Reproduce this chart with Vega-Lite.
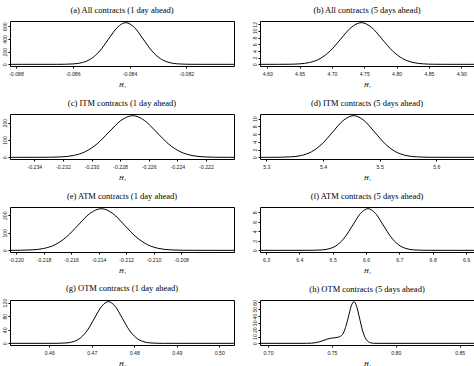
{
  "$schema": "https://vega.github.io/schema/vega-lite/v6.json",
  "padding": {"left": 1, "top": 5, "right": 0, "bottom": 0},
  "bounds": "flush",
  "columns": 2,
  "spacing": {"row": 48, "column": 26},
  "data": {"values": [
    {"p":"a","x":-0.08821,"y":0},{"p":"a","x":-0.08657,"y":0.22},{"p":"a","x":-0.086265,"y":1.43},{"p":"a","x":-0.08596,"y":7.3},{"p":"a","x":-0.085655,"y":28.7},{"p":"a","x":-0.08535,"y":88.5},{"p":"a","x":-0.085045,"y":212},{"p":"a","x":-0.08474,"y":397},{"p":"a","x":-0.084435,"y":577},{"p":"a","x":-0.08413,"y":654},{"p":"a","x":-0.083825,"y":577},{"p":"a","x":-0.08352,"y":397},{"p":"a","x":-0.083215,"y":212},{"p":"a","x":-0.08291,"y":88.5},{"p":"a","x":-0.082605,"y":28.7},{"p":"a","x":-0.0823,"y":7.3},{"p":"a","x":-0.081995,"y":1.43},{"p":"a","x":-0.08169,"y":0.22},{"p":"a","x":-0.08032,"y":0},
    {"p":"b","x":4.5887,"y":0},{"p":"b","x":4.6175,"y":0.004},{"p":"b","x":4.6335,"y":0.027},{"p":"b","x":4.6495,"y":0.14},{"p":"b","x":4.6655,"y":0.55},{"p":"b","x":4.6815,"y":1.69},{"p":"b","x":4.6975,"y":4.05},{"p":"b","x":4.7135,"y":7.56},{"p":"b","x":4.7295,"y":11.0},{"p":"b","x":4.7455,"y":12.47},{"p":"b","x":4.7615,"y":11.0},{"p":"b","x":4.7775,"y":7.56},{"p":"b","x":4.7935,"y":4.05},{"p":"b","x":4.8095,"y":1.69},{"p":"b","x":4.8255,"y":0.55},{"p":"b","x":4.8415,"y":0.14},{"p":"b","x":4.8575,"y":0.027},{"p":"b","x":4.8735,"y":0.004},{"p":"b","x":4.9197,"y":0},
    {"p":"c","x":-0.2357,"y":0},{"p":"c","x":-0.23376,"y":0.08},{"p":"c","x":-0.23293,"y":0.53},{"p":"c","x":-0.2321,"y":2.67},{"p":"c","x":-0.23127,"y":10.5},{"p":"c","x":-0.23044,"y":32.5},{"p":"c","x":-0.22961,"y":78},{"p":"c","x":-0.22878,"y":145.8},{"p":"c","x":-0.22795,"y":212},{"p":"c","x":-0.22712,"y":240.3},{"p":"c","x":-0.22629,"y":212},{"p":"c","x":-0.22546,"y":145.8},{"p":"c","x":-0.22463,"y":78},{"p":"c","x":-0.2238,"y":32.5},{"p":"c","x":-0.22297,"y":10.5},{"p":"c","x":-0.22214,"y":2.67},{"p":"c","x":-0.22131,"y":0.53},{"p":"c","x":-0.22048,"y":0.08},{"p":"c","x":-0.22004,"y":0},
    {"p":"d","x":5.2889,"y":0},{"p":"d","x":5.306,"y":0.004},{"p":"d","x":5.3245,"y":0.024},{"p":"d","x":5.343,"y":0.12},{"p":"d","x":5.3615,"y":0.47},{"p":"d","x":5.38,"y":1.46},{"p":"d","x":5.3985,"y":3.5},{"p":"d","x":5.417,"y":6.54},{"p":"d","x":5.4355,"y":9.51},{"p":"d","x":5.454,"y":10.78},{"p":"d","x":5.4725,"y":9.51},{"p":"d","x":5.491,"y":6.54},{"p":"d","x":5.5095,"y":3.5},{"p":"d","x":5.528,"y":1.46},{"p":"d","x":5.5465,"y":0.47},{"p":"d","x":5.565,"y":0.12},{"p":"d","x":5.5835,"y":0.024},{"p":"d","x":5.602,"y":0.004},{"p":"d","x":5.6663,"y":0},
    {"p":"e","x":-0.22044,"y":0},{"p":"e","x":-0.21968,"y":0.52},{"p":"e","x":-0.21884,"y":2.64},{"p":"e","x":-0.218,"y":10.4},{"p":"e","x":-0.21716,"y":32.1},{"p":"e","x":-0.21632,"y":77.1},{"p":"e","x":-0.21548,"y":144},{"p":"e","x":-0.21464,"y":209.6},{"p":"e","x":-0.2138,"y":237.5},{"p":"e","x":-0.21296,"y":209.6},{"p":"e","x":-0.21212,"y":144},{"p":"e","x":-0.21128,"y":77.1},{"p":"e","x":-0.21044,"y":32.1},{"p":"e","x":-0.2096,"y":10.4},{"p":"e","x":-0.20876,"y":2.64},{"p":"e","x":-0.20792,"y":0.52},{"p":"e","x":-0.20708,"y":0.08},{"p":"e","x":-0.20415,"y":0},
    {"p":"f","x":6.282,"y":0},{"p":"f","x":6.4236,"y":0.003},{"p":"f","x":6.4464,"y":0.019},{"p":"f","x":6.4692,"y":0.097},{"p":"f","x":6.492,"y":0.38},{"p":"f","x":6.5148,"y":1.18},{"p":"f","x":6.5376,"y":2.84},{"p":"f","x":6.5604,"y":5.31},{"p":"f","x":6.5832,"y":7.72},{"p":"f","x":6.606,"y":8.75},{"p":"f","x":6.6288,"y":7.72},{"p":"f","x":6.6516,"y":5.31},{"p":"f","x":6.6744,"y":2.84},{"p":"f","x":6.6972,"y":1.18},{"p":"f","x":6.72,"y":0.38},{"p":"f","x":6.7428,"y":0.097},{"p":"f","x":6.7656,"y":0.019},{"p":"f","x":6.7884,"y":0.003},{"p":"f","x":6.924,"y":0},
    {"p":"g","x":0.45075,"y":0},{"p":"g","x":0.4609,"y":0.04},{"p":"g","x":0.46253,"y":0.27},{"p":"g","x":0.46415,"y":1.36},{"p":"g","x":0.46578,"y":5.4},{"p":"g","x":0.4674,"y":16.6},{"p":"g","x":0.46903,"y":39.8},{"p":"g","x":0.47065,"y":74.4},{"p":"g","x":0.47228,"y":108.2},{"p":"g","x":0.4739,"y":122.6},{"p":"g","x":0.47553,"y":108.2},{"p":"g","x":0.47715,"y":74.4},{"p":"g","x":0.47878,"y":39.8},{"p":"g","x":0.4804,"y":16.6},{"p":"g","x":0.48203,"y":5.4},{"p":"g","x":0.48365,"y":1.36},{"p":"g","x":0.48528,"y":0.27},{"p":"g","x":0.4869,"y":0.04},{"p":"g","x":0.50346,"y":0},
    {"p":"h","x":0.6937,"y":0},{"p":"h","x":0.725,"y":0},{"p":"h","x":0.73,"y":0.05},{"p":"h","x":0.734,"y":0.3},{"p":"h","x":0.737,"y":0.9},{"p":"h","x":0.74,"y":2.1},{"p":"h","x":0.743,"y":4},{"p":"h","x":0.746,"y":6},{"p":"h","x":0.749,"y":7.4},{"p":"h","x":0.752,"y":8.1},{"p":"h","x":0.754,"y":8.7},{"p":"h","x":0.7562,"y":9.9},{"p":"h","x":0.7584,"y":13.2},{"p":"h","x":0.7606,"y":23},{"p":"h","x":0.7628,"y":38},{"p":"h","x":0.765,"y":54},{"p":"h","x":0.7672,"y":61},{"p":"h","x":0.7694,"y":53.8},{"p":"h","x":0.7716,"y":37},{"p":"h","x":0.7738,"y":19.8},{"p":"h","x":0.776,"y":8.3},{"p":"h","x":0.7782,"y":2.7},{"p":"h","x":0.7804,"y":0.7},{"p":"h","x":0.7826,"y":0.13},{"p":"h","x":0.786,"y":0},{"p":"h","x":0.8612,"y":0}
  ]},
  "concat": [
    {"title": "(a) All contracts (1 day ahead)", "width": 224, "height": 45,
     "transform": [{"filter": "datum.p == 'a'"}],
     "mark": {"type": "line", "interpolate": "monotone", "color": "#000", "strokeWidth": 1},
     "encoding": {
       "x": {"field": "x", "type": "quantitative", "scale": {"domain": [-0.08821, -0.08032], "nice": false, "zero": false},
             "axis": {"title": "H₁", "values": [-0.088, -0.086, -0.084, -0.082], "labelExpr": "replace(format(datum.value, '.3f'), '\u2212', '-')"}},
       "y": {"field": "y", "type": "quantitative", "scale": {"domain": [-26.2, 680.2], "nice": false, "zero": false},
             "axis": {"title": null, "values": [0, 200, 400, 600]}}}},
    {"title": "(b) All contracts (5 days ahead)", "width": 214, "height": 45,
     "transform": [{"filter": "datum.p == 'b'"}],
     "mark": {"type": "line", "interpolate": "monotone", "color": "#000", "strokeWidth": 1},
     "encoding": {
       "x": {"field": "x", "type": "quantitative", "scale": {"domain": [4.5887, 4.9197], "nice": false, "zero": false},
             "axis": {"title": "H₁", "values": [4.6, 4.65, 4.7, 4.75, 4.8, 4.85, 4.9], "format": ".2f"}},
       "y": {"field": "y", "type": "quantitative", "scale": {"domain": [-0.5, 12.97], "nice": false, "zero": false},
             "axis": {"title": null, "values": [0, 2, 4, 6, 8, 10, 12]}}}},
    {"title": "(c) ITM contracts (1 day ahead)", "width": 224, "height": 45,
     "transform": [{"filter": "datum.p == 'c'"}],
     "mark": {"type": "line", "interpolate": "monotone", "color": "#000", "strokeWidth": 1},
     "encoding": {
       "x": {"field": "x", "type": "quantitative", "scale": {"domain": [-0.2357, -0.22004], "nice": false, "zero": false},
             "axis": {"title": "H₁", "values": [-0.234, -0.232, -0.23, -0.228, -0.226, -0.224, -0.222], "labelExpr": "replace(format(datum.value, '.3f'), '\u2212', '-')"}},
       "y": {"field": "y", "type": "quantitative", "scale": {"domain": [-9.6, 249.9], "nice": false, "zero": false},
             "axis": {"title": null, "values": [0, 100, 200]}}}},
    {"title": "(d) ITM contracts (5 days ahead)", "width": 214, "height": 45,
     "transform": [{"filter": "datum.p == 'd'"}],
     "mark": {"type": "line", "interpolate": "monotone", "color": "#000", "strokeWidth": 1},
     "encoding": {
       "x": {"field": "x", "type": "quantitative", "scale": {"domain": [5.2889, 5.6663], "nice": false, "zero": false},
             "axis": {"title": "H₁", "values": [5.3, 5.4, 5.5, 5.6], "format": ".1f"}},
       "y": {"field": "y", "type": "quantitative", "scale": {"domain": [-0.43, 11.21], "nice": false, "zero": false},
             "axis": {"title": null, "values": [0, 2, 4, 6, 8, 10]}}}},
    {"title": "(e) ATM contracts (1 day ahead)", "width": 224, "height": 45,
     "transform": [{"filter": "datum.p == 'e'"}],
     "mark": {"type": "line", "interpolate": "monotone", "color": "#000", "strokeWidth": 1},
     "encoding": {
       "x": {"field": "x", "type": "quantitative", "scale": {"domain": [-0.22044, -0.20415], "nice": false, "zero": false},
             "axis": {"title": "H₁", "values": [-0.22, -0.218, -0.216, -0.214, -0.212, -0.21, -0.208], "labelExpr": "replace(format(datum.value, '.3f'), '\u2212', '-')"}},
       "y": {"field": "y", "type": "quantitative", "scale": {"domain": [-9.5, 247], "nice": false, "zero": false},
             "axis": {"title": null, "values": [0, 100, 200]}}}},
    {"title": "(f) ATM contracts (5 days ahead)", "width": 214, "height": 45,
     "transform": [{"filter": "datum.p == 'f'"}],
     "mark": {"type": "line", "interpolate": "monotone", "color": "#000", "strokeWidth": 1},
     "encoding": {
       "x": {"field": "x", "type": "quantitative", "scale": {"domain": [6.282, 6.924], "nice": false, "zero": false},
             "axis": {"title": "H₁", "values": [6.3, 6.4, 6.5, 6.6, 6.7, 6.8, 6.9], "format": ".1f"}},
       "y": {"field": "y", "type": "quantitative", "scale": {"domain": [-0.35, 9.1], "nice": false, "zero": false},
             "axis": {"title": null, "values": [0, 2, 4, 6, 8]}}}},
    {"title": "(g) OTM contracts (1 day ahead)", "width": 224, "height": 45,
     "transform": [{"filter": "datum.p == 'g'"}],
     "mark": {"type": "line", "interpolate": "monotone", "color": "#000", "strokeWidth": 1},
     "encoding": {
       "x": {"field": "x", "type": "quantitative", "scale": {"domain": [0.45075, 0.50346], "nice": false, "zero": false},
             "axis": {"title": "H₁", "values": [0.46, 0.47, 0.48, 0.49, 0.5], "format": ".2f"}},
       "y": {"field": "y", "type": "quantitative", "scale": {"domain": [-4.9, 127.5], "nice": false, "zero": false},
             "axis": {"title": null, "values": [0, 40, 80, 120]}}}},
    {"title": "(h) OTM contracts (5 days ahead)", "width": 214, "height": 45,
     "transform": [{"filter": "datum.p == 'h'"}],
     "mark": {"type": "line", "interpolate": "monotone", "color": "#000", "strokeWidth": 1},
     "encoding": {
       "x": {"field": "x", "type": "quantitative", "scale": {"domain": [0.6937, 0.8612], "nice": false, "zero": false},
             "axis": {"title": "H₁", "values": [0.7, 0.75, 0.8, 0.85], "format": ".2f"}},
       "y": {"field": "y", "type": "quantitative", "scale": {"domain": [-2.44, 63.44], "nice": false, "zero": false},
             "axis": {"title": null, "values": [0, 10, 20, 30, 40, 50, 60]}}}}
  ],
  "config": {
    "background": "#ffffff",
    "view": {"stroke": "#000", "strokeWidth": 1},
    "title": {"font": "Liberation Serif", "fontSize": 8.5, "fontWeight": "normal", "color": "#000", "anchor": "middle", "offset": 6},
    "axis": {"grid": false, "domain": false, "tickColor": "#000", "tickSize": 2, "labelFont": "Liberation Sans", "labelFontSize": 5.2, "labelColor": "#222", "titleFont": "Liberation Serif", "titleFontStyle": "italic", "titleFontWeight": "normal", "titleFontSize": 6.5, "titleColor": "#000"},
    "axisX": {"labelPadding": 3, "titlePadding": 5},
    "axisY": {"labelAngle": 270, "labelAlign": "center", "labelBaseline": "bottom", "labelPadding": 1}
  }
}
